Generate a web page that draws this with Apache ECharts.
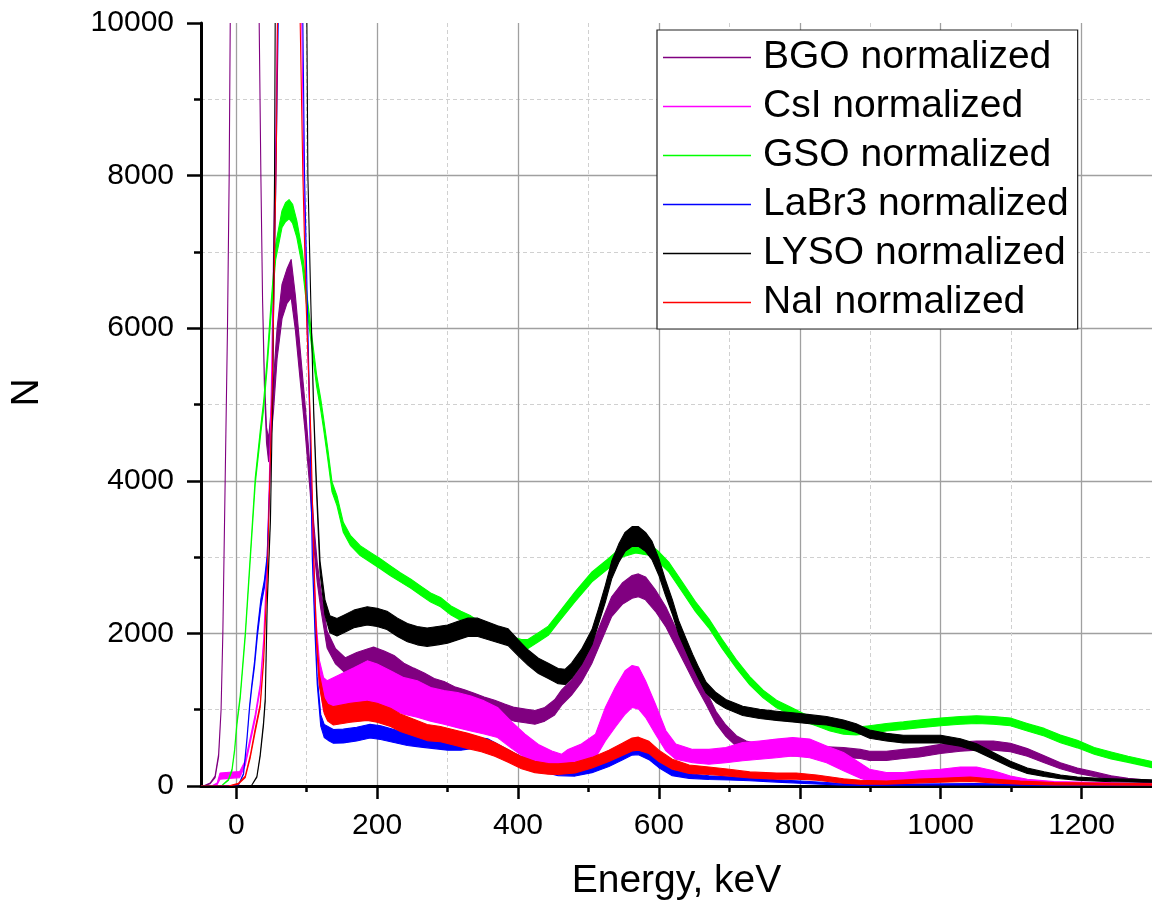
<!DOCTYPE html>
<html>
<head>
<meta charset="utf-8">
<script src="https://cdn.jsdelivr.net/npm/echarts@6/dist/echarts.min.js"></script>
<style>
html,body{margin:0;padding:0;background:#fff;}
#chart{width:1152px;height:907px;}
</style>
</head>
<body>
<div id="chart"></div>
<script>
// ---- data: [energy keV, N (centre of noisy trace), noise band width in counts] ----
const NAMES = ['BGO normalized','CsI normalized','GSO normalized','LaBr3 normalized','LYSO normalized','NaI normalized'];
const COLORS = ['#800080','#ff00ff','#00ff00','#0000ff','#000000','#ff0000'];
const X_RANGE = [-50, 1300];
const X_TICKS = [0,200,400,600,800,1000,1200];
const Y_TICKS = [0,2000,4000,6000,8000,10000];

const BGO = [[-50,0,0],[-45,5,0],[-37,35,10],[-30,120,20],[-25,400,30],[-21.5,1000,0],[-19,2000,0],[-15.7,4000,0],[-12.4,6000,0],[-10,8000,0],[-8.5,10000,0],[-5,13000,0],[12,20000,0],[30,13000,0],[32.6,10000,0],[35,8000,0],[37.4,6370,0],[40,5300,100],[43,4600,200],[46,4400,300],[50,4800,350],[53,5130,400],[58,5800,400],[65,6350,450],[72,6550,450],[78,6650,500],[84,6200,450],[91,5500,400],[98,4800,350],[105,4000,300],[110,3300,300],[115,2800,250],[120,2450,250],[129,1920,220],[141,1700,200],[155,1580,200],[171,1640,220],[186,1685,220],[195,1710,220],[210,1660,220],[224,1600,220],[238,1510,200],[252,1445,200],[267,1380,200],[281,1310,200],[295,1270,200],[310,1200,200],[324,1160,200],[338,1115,200],[352,1070,190],[367,1030,190],[381,985,180],[395,940,180],[410,920,180],[424,900,180],[438,940,180],[452,1030,200],[462,1160,200],[476,1290,200],[490,1470,220],[505,1730,240],[519,2040,250],[533,2350,260],[548,2520,280],[562,2610,300],[571,2630,300],[581,2590,300],[595,2430,280],[610,2215,260],[624,1950,240],[638,1690,220],[652,1425,200],[667,1160,180],[681,900,160],[695,725,150],[710,590,140],[724,525,130],[743,480,130],[767,470,130],[790,460,130],[814,460,130],[838,450,130],[862,440,130],[886,420,120],[899,395,120],[923,395,120],[947,420,120],[970,440,120],[1000,485,120],[1028,515,120],[1051,530,120],[1075,530,120],[1099,505,110],[1123,440,100],[1147,350,90],[1170,265,80],[1194,200,70],[1218,155,60],[1242,110,50],[1266,80,40],[1300,55,30]];

const CSI = [[-50,0,0],[-35,0,0],[-27,30,20],[-23,130,80],[-10,140,80],[5,150,80],[12.8,300,60],[19.9,600,60],[27,908,60],[34,1300,60],[39,1900,60],[44,3000,40],[47,4000,0],[50,5300,0],[53,7000,0],[56,8500,0],[58.5,10000,0],[60,12000,0],[75,25000,0],[91,12000,0],[93,10000,0],[96,8000,0],[100,6200,0],[105,4600,0],[109,3100,100],[113,2100,200],[118,1500,300],[124,1200,440],[129,1160,440],[148,1225,480],[167,1290,520],[186,1345,590],[200,1325,550],[219,1258,505],[238,1180,480],[257,1140,480],[276,1070,440],[295,1030,440],[314,995,460],[333,950,460],[352,898,435],[371,832,395],[390,675,350],[410,525,310],[429,415,260],[448,350,220],[462,318,195],[471,372,215],[490,418,265],[510,525,310],[524,810,440],[538,1030,520],[552,1225,570],[562,1305,550],[571,1285,550],[581,1140,480],[595,878,395],[610,592,265],[624,450,200],[648,392,175],[671,382,195],[695,405,200],[719,450,240],[743,470,240],[767,492,245],[790,515,240],[814,492,245],[838,415,220],[862,320,240],[886,200,200],[899,143,154],[923,110,132],[947,110,132],[970,128,143],[1000,143,154],[1028,162,175],[1051,162,175],[1075,133,134],[1099,88,88],[1123,59,58],[1161,40,35],[1300,22,17]];

const GSO = [[-50,0,0],[-20,10,0],[-11,80,10],[-6,210,20],[-2.3,470,20],[1,820,30],[5.7,1170,40],[13,2000,50],[20,3000,60],[27,4000,80],[34,4600,100],[39,5000,100],[44,5550,120],[49,6200,150],[56,7000,200],[65,7430,220],[70,7520,250],[75,7560,250],[80,7500,250],[86,7300,220],[94,6900,200],[101,6300,180],[108,5770,160],[114,5320,150],[120,5000,150],[124,4750,140],[130,4350,140],[136,3920,130],[143,3740,130],[152,3390,130],[162,3220,130],[176,3085,130],[190,3000,130],[205,2910,130],[219,2820,130],[233,2735,120],[248,2650,120],[262,2560,120],[276,2470,120],[290,2410,120],[305,2300,120],[319,2230,120],[333,2170,120],[348,2080,120],[362,2010,120],[376,1950,120],[390,1900,120],[405,1860,120],[414,1860,120],[429,1950,120],[443,2035,120],[457,2200,120],[481,2480,130],[505,2740,130],[529,2920,130],[548,3070,140],[567,3130,150],[586,3100,150],[600,3000,140],[614,2870,130],[633,2610,130],[652,2350,130],[671,2130,120],[690,1860,120],[710,1600,110],[729,1380,110],[748,1205,100],[767,1075,100],[786,990,100],[805,900,100],[824,835,100],[843,770,100],[862,730,100],[880,720,100],[899,740,100],[923,770,100],[947,790,100],[970,815,100],[1000,840,100],[1028,860,100],[1051,870,100],[1075,860,100],[1099,840,100],[1123,770,100],[1147,705,100],[1170,617,100],[1194,550,100],[1218,460,90],[1242,400,90],[1266,350,80],[1300,280,80]];

const LABR3 = [[-50,0,0],[3,10,0],[10.4,160,10],[15.1,600,20],[19,1040,30],[22,1300,40],[26,1600,60],[30,2000,80],[35,2400,100],[40,2650,100],[44,3000,50],[47,3800,0],[50,4600,0],[53,6200,0],[56,7800,0],[59.6,10000,0],[62,12000,0],[75,25000,0],[92,12000,0],[94.6,10000,0],[97,8000,0],[101,6300,0],[105,4600,0],[108,3000,50],[112,2000,80],[115,1380,100],[120,860,150],[125,720,170],[132,680,180],[138,650,180],[152,655,180],[171,680,180],[190,720,180],[205,700,180],[224,655,170],[243,610,160],[262,590,160],[281,570,160],[300,545,150],[319,545,150],[338,570,150],[357,545,150],[376,460,130],[395,370,120],[414,285,110],[433,240,100],[457,180,90],[481,175,90],[505,220,90],[529,305,100],[548,395,110],[562,460,110],[571,465,110],[586,395,100],[600,285,90],[619,175,80],[643,130,60],[671,110,50],[700,100,40],[729,88,40],[767,66,30],[814,44,30],[862,22,20],[886,15,15],[1000,20,15],[1050,25,15],[1100,18,12],[1300,8,8]];

const LYSO = [[-50,0,0],[15,0,0],[22,10,0],[29.3,120,10],[34,400,20],[38.8,820,30],[41.2,1130,40],[44,2400,40],[48.6,3500,40],[52,5300,0],[54.4,8000,0],[55.3,10000,0],[57,14000,0],[75,30000,0],[98,14000,0],[100.3,10000,0],[101.7,8000,0],[106,6300,0],[110,4900,50],[114,3900,100],[119,2870,150],[126,2340,200],[133,2120,220],[143,2080,230],[152,2120,230],[167,2190,230],[186,2230,240],[200,2210,240],[214,2170,240],[229,2080,240],[243,2010,240],[257,1970,240],[271,1950,240],[286,1970,240],[300,1990,240],[314,2035,240],[329,2080,240],[343,2080,240],[357,2035,230],[371,1990,220],[386,1950,220],[400,1815,210],[414,1685,200],[429,1575,200],[443,1510,200],[457,1440,200],[467,1430,200],[476,1510,200],[490,1690,200],[505,1950,200],[514,2215,200],[524,2520,220],[533,2830,230],[543,3050,240],[552,3200,250],[562,3270,260],[571,3270,260],[581,3200,250],[590,3090,240],[600,2870,220],[609,2610,200],[619,2350,190],[628,2080,180],[638,1860,170],[648,1645,160],[657,1470,150],[667,1290,140],[681,1160,130],[695,1075,120],[719,985,120],[743,945,120],[767,920,120],[790,900,120],[814,875,120],[838,855,110],[862,810,110],[880,760,110],[899,680,110],[923,640,100],[947,615,100],[970,615,100],[1000,615,100],[1028,570,100],[1051,505,100],[1075,395,90],[1099,285,80],[1123,200,70],[1147,155,60],[1170,120,50],[1194,97,40],[1218,85,40],[1242,75,40],[1300,65,30]];

const NAI = [[-50,0,0],[-11,0,0],[3,30,10],[12.8,120,20],[19.9,385,30],[27,734,40],[34,1050,40],[39,1660,40],[44,2730,0],[47,3800,0],[51,5130,0],[54,6730,0],[57,8340,0],[58.6,10000,0],[60,12000,0],[75,25000,0],[89,12000,0],[90.8,10000,0],[94.6,8000,0],[99,6370,0],[106,4600,0],[110,3000,50],[114,1920,100],[118,1390,150],[125,1050,200],[130,960,220],[138,920,240],[162,960,250],[186,985,250],[200,960,250],[219,900,240],[233,830,230],[252,765,220],[271,700,210],[290,680,200],[310,635,200],[329,590,200],[348,545,190],[367,480,180],[386,395,170],[405,305,160],[424,250,150],[443,225,140],[457,220,140],[481,240,140],[505,305,140],[529,395,150],[548,480,160],[562,545,170],[571,555,170],[586,505,160],[600,395,150],[619,285,130],[643,220,110],[671,200,100],[700,175,90],[729,145,80],[767,130,80],[795,130,80],[824,110,70],[862,66,60],[886,50,50],[923,44,40],[970,66,50],[1000,75,50],[1042,88,60],[1075,66,50],[1113,44,40],[1161,30,30],[1300,20,20]];

const SERIES_DATA = [BGO, CSI, GSO, LABR3, LYSO, NAI];

// ---- chart ----
const FONT = "'Liberation Sans', Arial, Helvetica, sans-serif";
const chart = echarts.init(document.getElementById('chart'), null, {renderer: 'canvas'});

function bandSeries(name, color, pts) {
  return {
    name: name,
    type: 'custom',
    xAxisIndex: 0, yAxisIndex: 0,
    data: pts.map(p => [p[0], p[1] - p[2] / 2, p[1] + p[2] / 2]),
    itemStyle: {color: color},
    silent: true,
    animation: false,
    renderItem: function (params, api) {
      if (params.dataIndexInside !== 0) return null;
      const n = params.dataInsideLength;
      const up = [], lo = [];
      for (let i = 0; i < n; i++) {
        const x = api.value(0, i);
        up.push(api.coord([x, api.value(2, i)]));
        lo.push(api.coord([x, api.value(1, i)]));
      }
      const poly = up.concat(lo.reverse());
      const cs = params.coordSys;
      return {
        type: 'polygon',
        shape: {points: poly},
        style: {fill: color, stroke: color, lineWidth: 1.1, lineJoin: 'round'},
        clipPath: {type: 'rect', shape: {x: cs.x, y: cs.y, width: cs.width, height: cs.height}}
      };
    }
  };
}

const GRID_MAIN = {left: 201, top: 23, right: 0, bottom: 121, containLabel: false, outerBoundsMode: 'none'};

const option = {
  backgroundColor: '#ffffff',
  animation: false,
  textStyle: {fontFamily: FONT},
  grid: [GRID_MAIN, Object.assign({}, GRID_MAIN)],
  legend: {
    data: NAMES.map(n => ({name: n, icon: 'rect'})),
    orient: 'vertical',
    left: 657, top: 30,
    itemWidth: 88, itemHeight: 1.6, itemGap: 0,
    padding: [3, 9, 2, 6],
    backgroundColor: '#ffffff',
    borderColor: '#222222', borderWidth: 1.2, borderRadius: 0,
    selectedMode: false,
    textStyle: {color: '#000', fontSize: 39, fontFamily: FONT, lineHeight: 49, padding: [0, 0, 0, 7]}
  },
  xAxis: [{
    // data axis: carries the axis line and title
    gridIndex: 0, type: 'value', min: X_RANGE[0], max: X_RANGE[1],
    name: 'Energy, keV', nameLocation: 'middle', nameGap: 76,
    nameTextStyle: {color: '#000', fontSize: 39, fontFamily: FONT},
    axisLine: {show: true, onZero: false, lineStyle: {color: '#000', width: 3}},
    axisTick: {show: false}, axisLabel: {show: false},
    splitLine: {show: false}, minorTick: {show: false}, minorSplitLine: {show: false}
  }, {
    // tick axis: spans exactly the tick range, aligned over the data axis
    gridIndex: 1, type: 'value', min: X_TICKS[0], max: X_TICKS[X_TICKS.length - 1],
    interval: X_TICKS[1] - X_TICKS[0],
    axisLine: {show: false, onZero: false},
    axisTick: {show: true, length: 13, lineStyle: {color: '#000', width: 2.5}},
    minorTick: {show: true, splitNumber: 2, length: 6, lineStyle: {color: '#000', width: 2.5}},
    axisLabel: {show: true, margin: 25, color: '#000', fontSize: 30, fontFamily: FONT,
      formatter: v => String(v)},
    splitLine: {show: true, lineStyle: {color: '#a0a0a0', width: 1.3, type: 'solid'}},
    minorSplitLine: {show: true, lineStyle: {color: '#d0d0d0', width: 1, type: [4, 3]}}
  }],
  yAxis: [{
    gridIndex: 0, type: 'value', min: Y_TICKS[0], max: Y_TICKS[Y_TICKS.length - 1],
    interval: Y_TICKS[1] - Y_TICKS[0],
    name: 'N', nameLocation: 'middle', nameGap: 154,
    nameTextStyle: {color: '#000', fontSize: 39, fontFamily: FONT, padding: [0, 0, 0, 24]},
    axisLine: {show: true, onZero: false, lineStyle: {color: '#000', width: 3}},
    axisTick: {show: true, length: 14, lineStyle: {color: '#000', width: 2.5}},
    minorTick: {show: true, splitNumber: 2, length: 7, lineStyle: {color: '#000', width: 2.5}},
    axisLabel: {show: true, margin: 27, color: '#000', fontSize: 30, fontFamily: FONT,
      formatter: v => String(v)},
    splitLine: {show: true, showMinLine: false, showMaxLine: false, lineStyle: {color: '#a0a0a0', width: 1.3, type: 'solid'}},
    minorSplitLine: {show: true, lineStyle: {color: '#d0d0d0', width: 1, type: [4, 3]}}
  }, {
    gridIndex: 1, type: 'value', min: Y_TICKS[0], max: Y_TICKS[Y_TICKS.length - 1], show: false
  }],
  series: NAMES.map((n, i) => bandSeries(n, COLORS[i], SERIES_DATA[i]))
};
chart.setOption(option);

// align the tick grid with the data axis using the library's own scale
const px0 = chart.convertToPixel({xAxisIndex: 0}, X_TICKS[0]);
const px1 = chart.convertToPixel({xAxisIndex: 0}, X_TICKS[X_TICKS.length - 1]);
chart.setOption({
  grid: [{}, {left: px0, width: px1 - px0, right: null, top: GRID_MAIN.top, bottom: GRID_MAIN.bottom}]
});
</script>
</body>
</html>
